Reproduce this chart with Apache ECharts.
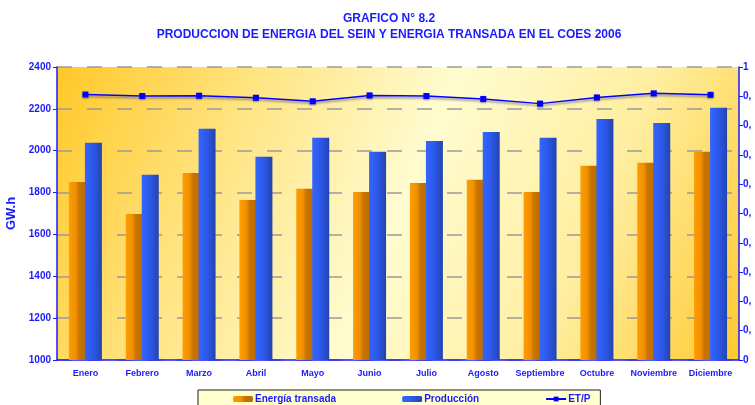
<!DOCTYPE html>
<html>
<head>
<meta charset="utf-8">
<script src="https://cdn.jsdelivr.net/npm/echarts@6/dist/echarts.min.js"></script>
<style>
  html, body { margin: 0; padding: 0; background: #fff; }
  #chart { width: 755px; height: 405px; }
</style>
</head>
<body>
<div id="chart"></div>
<script>
// months
const meses = ['Enero', 'Febrero', 'Marzo', 'Abril', 'Mayo', 'Junio', 'Julio',
  'Agosto', 'Septiembre', 'Octubre', 'Noviembre', 'Diciembre'];

// GW.h
const energiaTransada = [1851, 1698, 1894, 1765, 1818, 1803, 1846, 1861, 1803, 1928, 1942, 1995];
const produccion = [2038, 1885, 2105, 1971, 2062, 1995, 2047, 2090, 2062, 2152, 2133, 2205];

// ratio ET/P
const etp = [0.906, 0.901, 0.902, 0.895, 0.883, 0.903, 0.901, 0.891, 0.875, 0.896, 0.910, 0.905];

const azul = '#1a1aff';
const font = 'Liberation Sans, Arial, sans-serif';

const chart = echarts.init(document.getElementById('chart'));

chart.setOption({
  animation: false,
  textStyle: { fontFamily: font },
  title: {
    text: 'GRAFICO N° 8.2\nPRODUCCION DE ENERGIA DEL SEIN Y ENERGIA TRANSADA EN EL COES 2006',
    left: 384,
    textAlign: 'center',
    top: 6,
    textStyle: { color: azul, fontSize: 12, fontWeight: 'bold', lineHeight: 16, fontFamily: font }
  },
  legend: {
    left: 198,
    top: 390,
    padding: [4, 10, 8, 35],
    itemGap: 66,
    itemWidth: 20,
    itemHeight: 6,
    backgroundColor: '#ffffd0',
    borderColor: '#222',
    borderWidth: 1,
    textStyle: { color: azul, fontSize: 10, fontWeight: 'bold', fontFamily: font, padding: [0, 0, 0, -3] },
    data: [
      { name: 'Energía transada' },
      { name: 'Producción' },
      { name: 'ET/P' }
    ]
  },
  grid: {
    left: 57,
    right: 16,
    top: 67,
    bottom: 45,
    outerBoundsMode: 'none',
    containLabel: false,
    show: true,
    borderWidth: 0,
    backgroundColor: {
      type: 'linear', x: 0, y: 0, x2: 1, y2: 1,
      colorStops: [
        { offset: 0, color: '#ffc828' },
        { offset: 0.25, color: '#ffe482' },
        { offset: 0.5, color: '#fffcd0' },
        { offset: 0.75, color: '#ffeea0' },
        { offset: 1, color: '#ffc930' }
      ]
    }
  },
  xAxis: {
    type: 'category',
    data: meses,
    axisLine: { lineStyle: { color: azul, width: 1.5 } },
    axisTick: { lineStyle: { color: azul }, length: 4 },
    axisLabel: { color: azul, fontSize: 9, fontWeight: 'bold', margin: 9, interval: 0 }
  },
  yAxis: [
    {
      type: 'value',
      min: 1000,
      max: 2400,
      interval: 200,
      name: 'GW.h',
      nameLocation: 'middle',
      nameGap: 29,
      nameTextStyle: { color: azul, fontSize: 13, fontWeight: 'bold' },
      axisLine: { show: true, lineStyle: { color: azul, width: 1.5 } },
      axisTick: { show: true, lineStyle: { color: azul }, length: 4 },
      axisLabel: {
        color: azul, fontSize: 10, fontWeight: 'bold', margin: 6,
        formatter: function (v) { return String(v); }
      },
      splitLine: { lineStyle: { color: '#9a9a9a', width: 1.5, type: [15, 15] } }
    },
    {
      type: 'value',
      min: 0,
      max: 1,
      interval: 0.1,
      position: 'right',
      axisLine: { show: true, lineStyle: { color: azul, width: 1.5 } },
      axisTick: { show: true, lineStyle: { color: azul }, length: 4 },
      axisLabel: {
        color: azul, fontSize: 10, fontWeight: 'bold', margin: 4,
        formatter: function (v) { return v === 0 ? '0' : (v >= 0.999 ? '1' : '0,'); }
      },
      splitLine: { show: false }
    }
  ],
  series: [
    {
      name: 'Energía transada',
      type: 'bar',
      data: energiaTransada,
      barWidth: 17,
      barGap: '-6%',
      itemStyle: {
        color: {
          type: 'linear', x: 0, y: 0, x2: 1, y2: 0,
          colorStops: [
            { offset: 0, color: '#ff9d00' },
            { offset: 0.4, color: '#f09000' },
            { offset: 0.6, color: '#c87400' },
            { offset: 1, color: '#c06c00' }
          ]
        }
      }
    },
    {
      name: 'Producción',
      type: 'bar',
      data: produccion,
      barWidth: 17,
      itemStyle: {
        color: {
          type: 'linear', x: 0, y: 0, x2: 1, y2: 0,
          colorStops: [
            { offset: 0, color: '#3366ff' },
            { offset: 0.5, color: '#2c58e8' },
            { offset: 1, color: '#2244b0' }
          ]
        }
      }
    },
    {
      name: 'ET/P',
      type: 'line',
      yAxisIndex: 1,
      data: etp,
      symbol: 'rect',
      symbolSize: 6,
      lineStyle: {
        color: '#0000ff', width: 1.5,
        shadowColor: 'rgba(60,60,120,0.55)', shadowBlur: 2, shadowOffsetY: 2
      },
      itemStyle: {
        color: '#0000ff', borderWidth: 0,
        shadowColor: 'rgba(60,60,120,0.5)', shadowBlur: 2, shadowOffsetY: 1
      }
    }
  ]
});
</script>
</body>
</html>
